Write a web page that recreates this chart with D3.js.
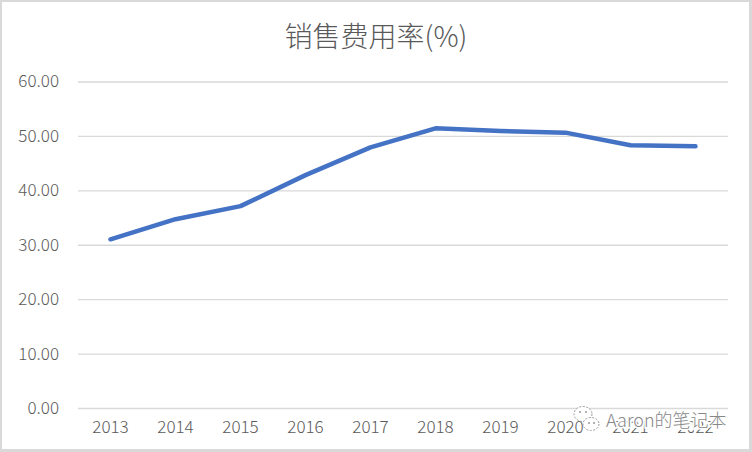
<!DOCTYPE html>
<html>
<head>
<meta charset="utf-8">
<script src="https://cdn.jsdelivr.net/npm/d3@7"></script>
<style>
html,body{margin:0;padding:0;background:#fff;}
svg{display:block;}
text{font-family:"Noto Sans CJK SC","Noto Sans",sans-serif;font-weight:300;}
</style>
</head>
<body>
<svg id="chart" width="752" height="452"></svg>
<script>
const title = "销售费用率(%)";
const years = ["2013","2014","2015","2016","2017","2018","2019","2020","2021","2022"];
const rates = [31.0, 34.7, 37.1, 42.8, 47.9, 51.4, 50.9, 50.6, 48.3, 48.1];
const yTicks = [0, 10, 20, 30, 40, 50, 60];
const watermark = "Aaron的笔记本";

(function(){
const svg = d3.select("#chart");
const W = 752, H = 452;
const pL = 78, pR = 728, pT = 81.5, pB = 408;

svg.append("rect").attr("x",0).attr("y",0).attr("width",W).attr("height",H).attr("fill","#d9d9d9");
svg.append("rect").attr("x",2).attr("y",2).attr("width",W-5).attr("height",H-5).attr("fill","#fff");

const x = d3.scaleBand().domain(years).range([pL, pR]);
const y = d3.scaleLinear().domain([0, 60]).range([pB, pT]);

const yAxis = svg.append("g").attr("transform",`translate(${pL},0)`)
  .call(d3.axisLeft(y).tickValues(yTicks).tickFormat(d3.format(".2f")).tickSize(-(pR-pL)).tickPadding(19));
yAxis.select(".domain").remove();
yAxis.selectAll(".tick line").attr("stroke","#d9d9d9").attr("stroke-width",1.3);
yAxis.selectAll(".tick text").attr("fill","#595959").style("font-size","17px");

const xAxis = svg.append("g").attr("transform",`translate(0,${pB})`)
  .call(d3.axisBottom(x).tickSize(0).tickPadding(13));
xAxis.select(".domain").remove();
xAxis.selectAll(".tick text").attr("fill","#595959").style("font-size","17px");

const line = d3.line().x((d,i)=>x(years[i]) + x.bandwidth()/2).y(d=>y(d));
svg.append("path").datum(rates).attr("d", line)
  .attr("fill","none").attr("stroke","#4472c4").attr("stroke-width",4.5)
  .attr("stroke-linejoin","round").attr("stroke-linecap","round");

svg.append("text").attr("x",376).attr("y",47).attr("text-anchor","middle")
  .attr("fill","#595959").style("font-size","28px").text(title);

// watermark (WeChat-like icon + text)
const wm = svg.append("g");
wm.append("ellipse").attr("cx",583).attr("cy",414).attr("rx",9).attr("ry",7.5)
  .attr("fill","#fff").attr("stroke","#999").attr("stroke-width",1).attr("stroke-dasharray","2,1.5");
wm.append("ellipse").attr("cx",591).attr("cy",424).attr("rx",8).attr("ry",6.5)
  .attr("fill","#fff").attr("stroke","#999").attr("stroke-width",1).attr("stroke-dasharray","2,1.5");
[[580,412],[586,412],[589,423],[594,423]].forEach(p=>{
  wm.append("circle").attr("cx",p[0]).attr("cy",p[1]).attr("r",1).attr("fill","#999");
});
wm.append("text").attr("x",606).attr("y",427).attr("fill","#888")
  .attr("stroke","#fff").attr("stroke-width",3).attr("paint-order","stroke")
  .style("font-size","18px").text(watermark);
})();
</script>
</body>
</html>
